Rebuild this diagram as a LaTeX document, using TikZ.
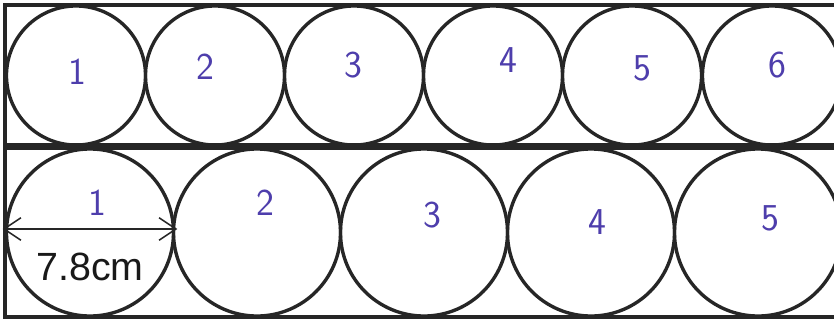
\documentclass[tikz,border=0pt]{standalone}
\usepackage{fontspec}
\setmainfont{Liberation Sans}
\usetikzlibrary{arrows.meta,positioning}

\definecolor{penblue}{RGB}{78,62,172}

\begin{document}
\begin{tikzpicture}[
    x=0.025cm, y=-0.025cm,
    frame/.style={draw=black!85, line width=2.3pt},
    smallcirc/.style={circle, draw=black!85, line width=2.4pt, minimum size=3.475cm, inner sep=0pt},
    bigcirc/.style={circle, draw=black!85, line width=2.4pt, minimum size=4.175cm, inner sep=0pt},
    num/.style={text=penblue, font=\sffamily\fontsize{27}{29}\selectfont, inner sep=0pt},
    dim/.style={{Straight Barb[length=12pt,width=16pt,line width=1.1pt]}-{Straight Barb[length=12pt,width=16pt,line width=1.1pt]}, line width=1.1pt, draw=black!85, shorten <=-1.5pt, shorten >=-1.5pt}
]
    \useasboundingbox (0,0) rectangle (834,322);
    \clip (0,0) rectangle (834,322);
    \fill[white] (0,0) rectangle (834,322);

    % Boxes
    \draw[frame] (5,5) rectangle (870,145);
    \draw[frame] (5,148) rectangle (870,317);

    % Top row
    \foreach \i/\cx/\nx/\ny in {1/76/77/72, 2/215/205/67, 3/354/353/65, 4/493/508/60, 5/632/642/68, 6/772/777/65} {
        \node[smallcirc] (t\i) at (\cx,75.5) {};
        \node[num] (tn\i) at (\nx,\ny) {\i};
    }

    % Bottom row
    \foreach \i/\cx/\nx/\ny in {1/90/97/203, 2/257/265/203, 3/424/432/215, 4/591/597/222, 5/758/770/218} {
        \node[bigcirc] (b\i) at (\cx,232.5) {};
        \node[num] (bn\i) at (\nx,\ny) {\i};
    }

    % Diameter
    \coordinate (dl) at (b1.west |- 0,229);
    \coordinate (dr) at (b1.east |- 0,229);
    \draw[dim] (dl) -- (dr);
    \node[font=\fontsize{28}{30}\selectfont, text=black!90] (diam) at (90,267) {7.8cm};
\end{tikzpicture}
\end{document}
